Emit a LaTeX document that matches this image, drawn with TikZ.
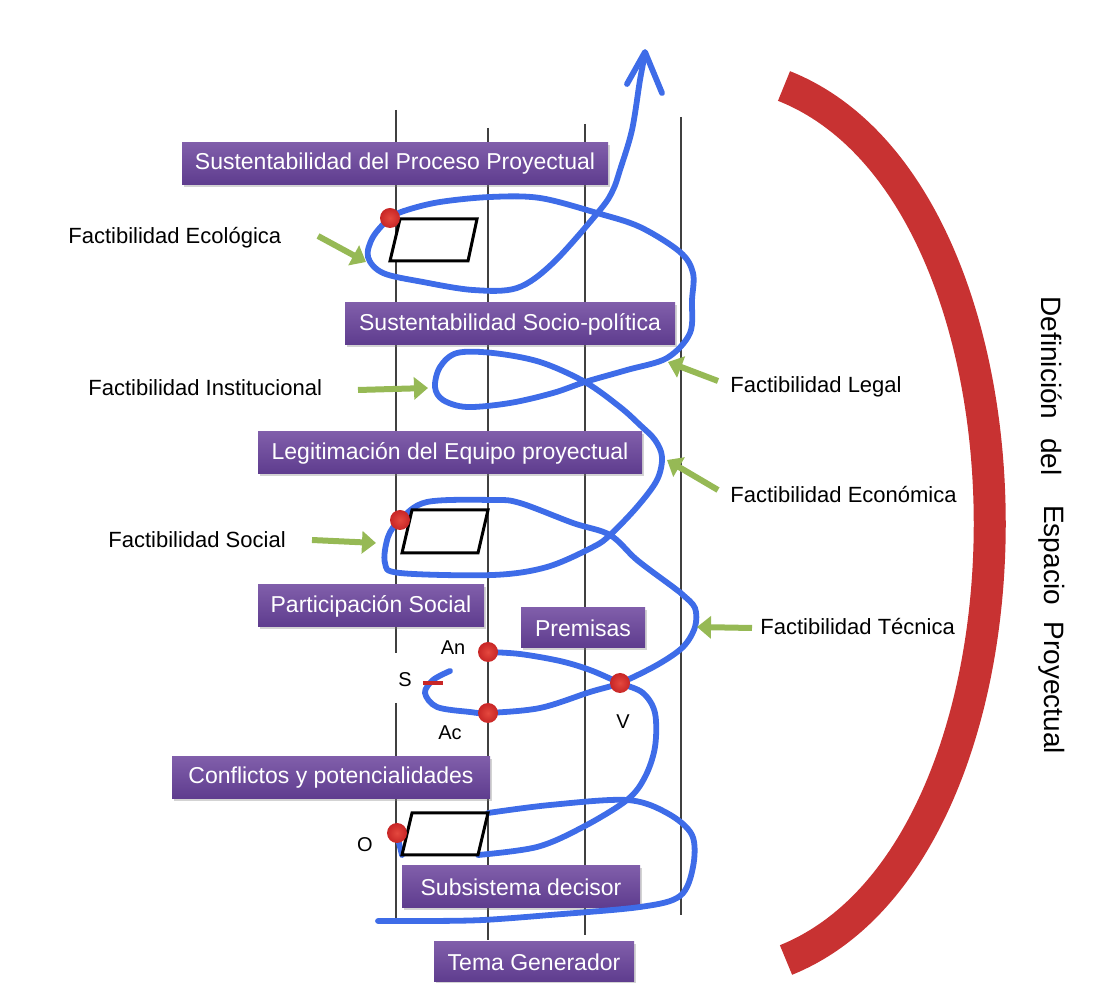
\documentclass[tikz,border=0pt]{standalone}
\usepackage{fontspec}
\setmainfont{Liberation Sans}
\usepackage{tikz}
\usetikzlibrary{arrows.meta}
\usetikzlibrary{shadows}
\definecolor{boxtop}{RGB}{128,94,170}
\definecolor{boxbot}{RGB}{94,60,142}
\definecolor{spiral}{RGB}{62,108,232}
\definecolor{leafgreen}{RGB}{150,185,85}
\definecolor{arcred}{RGB}{200,50,50}
\definecolor{dotred}{RGB}{200,38,38}
\definecolor{dotlight}{RGB}{228,72,62}
\tikzset{etapa/.style={rectangle, top color=boxtop, bottom color=boxbot,
         text=white, inner sep=0pt, minimum height=21pt,
         font=\fontsize{11.5}{13}\selectfont,
         drop shadow={shadow xshift=1pt, shadow yshift=-1.2pt, opacity=0.35}},
         rotulo/.style={font=\fontsize{11}{13}\selectfont, inner sep=0pt},
         letra/.style={font=\fontsize{10}{12}\selectfont, inner sep=0pt},
         eje/.style={draw=black!75, line width=0.7pt},
         recorrido/.style={draw=spiral, line width=2.9pt, line cap=round, line join=round},
         flecha/.style={draw=leafgreen, line width=3pt, -{Triangle[length=7pt,width=11pt]}},
         hito/.style={circle, inner color=dotlight, outer color=dotred, minimum size=10pt, inner sep=0pt},
         plano/.style={draw=black, line width=1.5pt, fill=white}}

\begin{document}
\begin{tikzpicture}[x=0.5pt, y=-0.5pt]
        \useasboundingbox (0,0) rectangle (1099,983);

        % Vertical guides
        \draw[eje] (396,110) -- (396,653);
        \draw[eje] (396,703) -- (396,922);
        \draw[eje] (488,128) -- (488,940);
        \draw[eje] (585,124) -- (585,935);
        \draw[eje] (681,117) -- (681,915);

        % Stages
        \node[etapa, minimum width=213pt] (proceso) at (395,164) {Sustentabilidad del Proceso Proyectual};
        \node[etapa, minimum width=165pt] (sociopol) at (510,324) {Sustentabilidad Socio-política};
        \node[etapa, minimum width=192pt] (legitim) at (450,453) {Legitimación del Equipo proyectual};
        \node[etapa, minimum width=113pt] (partic) at (371,606) {Participación Social};
        \node[etapa, minimum width=62pt, minimum height=20pt] (premisas) at (583,628) {Premisas};
        \node[etapa, minimum width=159pt] (conflic) at (331,778) {Conflictos y potencialidades};
        \node[etapa, minimum width=119pt] (decisor) at (521,887) {Subsistema decisor};
        \node[etapa, minimum width=100pt, minimum height=20pt] (tema) at (534,962) {Tema Generador};

        % Spiral
        \draw[recorrido] plot[smooth, tension=0.55] coordinates {(378,921) (430,921) (483,920) (550,915)
            (640,907) (680,896) (693,867) (692,835) (667,813) (627,800) (550,805) (488,813)};
        \draw[recorrido] (397,835) -- (402,855);
        \draw[recorrido] plot[smooth, tension=0.55] coordinates {(478,855) (537,847) (583,827) (627,800)
            (645,777) (655,747) (655,713) (643,693) (620,683) (590,670) (560,661) (520,654) (488,652)};
        \draw[recorrido] plot[smooth, tension=0.55] coordinates {(450,671) (433,680) (425,693) (437,707)
            (470,712) (488,713) (540,708) (590,692) (620,683) (657,665) (683,647) (695,627) (695,608)
            (683,595) (673,587) (637,560) (610,535) (573,523) (520,503) (493,500) (427,502) (400,520)
            (388,537) (385,563) (400,573) (493,575) (547,567) (593,547) (610,535) (637,507) (657,480)
            (662,457) (655,440) (640,425) (620,407) (585,382) (540,362) (493,353) (457,353) (440,367)
            (435,387) (443,400) (467,407) (510,403) (553,393) (585,382) (627,370) (667,358) (690,333)
            (692,300) (693,273) (680,252) (640,227) (597,213) (540,198) (490,197) (440,202) (407,210)
            (390,218) (373,237) (368,257) (383,273) (423,282) (473,290) (517,288) (553,263) (600,210)
            (613,190) (620,170) (632,130) (640,80) (645,54)};
        \draw[recorrido] (627,84) -- (645,52) -- (662,93);

        % Plans
        \draw[plano] (400,219) -- (477,219) -- (468,261) -- (390,261) -- cycle;
        \draw[plano] (412,510) -- (488,510) -- (478,553) -- (402,553) -- cycle;
        \draw[plano] (412,813) -- (488,813) -- (478,855) -- (402,855) -- cycle;

        % Points
        \node[hito] (pecol) at (390,218) {};
        \node[hito] (psoc) at (400,520) {};
        \node[hito] (pan) at (488,652) {};
        \node[hito] (pac) at (488,713) {};
        \node[hito] (pv) at (620,683) {};
        \node[hito] (po) at (397,833) {};
        \draw[dotred, line width=2pt] (423,683) -- (443,683);

        \node[letra] (lan) at (453,648) {An};
        \node[letra] (ls) at (405,680) {S};
        \node[letra] (lac) at (450,733) {Ac};
        \node[letra] (lv) at (623,722) {V};
        \node[letra] (lo) at (365,845) {O};

        % Feasibility labels
        \node[rotulo, anchor=west] (fecol) at (68,238) {Factibilidad Ecológica};
        \node[rotulo, anchor=west] (finst) at (88,388) {Factibilidad Institucional};
        \node[rotulo, anchor=west] (fsoc) at (108,540) {Factibilidad Social};
        \node[rotulo, anchor=west] (fleg) at (730,387) {Factibilidad Legal};
        \node[rotulo, anchor=west] (feco) at (730,495) {Factibilidad Económica};
        \node[rotulo, anchor=west] (ftec) at (760,627) {Factibilidad Técnica};

        \coordinate (tecol) at (318,236);  \coordinate (hecol) at (366,262);
        \coordinate (tinst) at (358,390);  \coordinate (hinst) at (428,388);
        \coordinate (tsoc) at (312,540);   \coordinate (hsoc) at (376,543);
        \coordinate (tleg) at (718,381);   \coordinate (hleg) at (668,362);
        \coordinate (teco) at (718,490);   \coordinate (heco) at (667,460);
        \coordinate (ttec) at (752,628);   \coordinate (htec) at (697,627);
        \draw[flecha] (tecol) -- (hecol);
        \draw[flecha] (tinst) -- (hinst);
        \draw[flecha] (tsoc) -- (hsoc);
        \draw[flecha] (tleg) -- (hleg);
        \draw[flecha] (teco) -- (heco);
        \draw[flecha] (ttec) -- (htec);

        % Bracket
        \draw[arcred, line width=16pt] (784,86) .. controls (1058,195) and (1058,850) .. (786,960);
        \node[font=\fontsize{14}{16}\selectfont, rotate=-90] (ddef) at (1052,358) {Definición};
        \node[font=\fontsize{14}{16}\selectfont, rotate=-90] (ddel) at (1052,457) {del};
        \node[font=\fontsize{14}{16}\selectfont, rotate=-90] (desp) at (1052,555) {Espacio};
        \node[font=\fontsize{14}{16}\selectfont, rotate=-90] (dpro) at (1052,688) {Proyectual};
\end{tikzpicture}
\end{document}
